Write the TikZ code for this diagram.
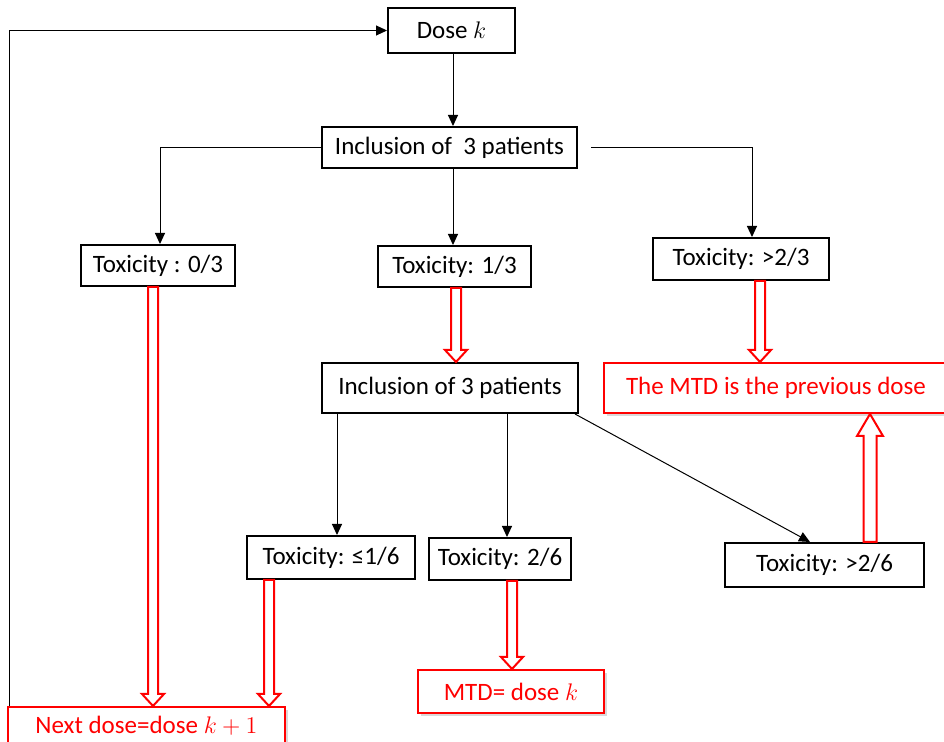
\documentclass[tikz,border=0pt]{standalone}
\usepackage{fontspec}
\setmainfont{Carlito}
\usetikzlibrary{arrows.meta,calc,shadows}

\tikzset{
  box/.style={draw, line width=1pt, fill=white, inner sep=0pt,
    font=\fontsize{12.5}{14}\selectfont},
  redbox/.style={box, draw=red, text=red,
    drop shadow={shadow xshift=1.5pt, shadow yshift=-1.5pt, opacity=0.3}},
  link/.style={line width=0.5pt, -{Triangle[length=5.5pt,width=5pt]}},
  hollow/.style={draw=red, line width=1pt, fill=white},
}

% #1 start, #2 target, #3 half shaft, #4 half head, #5 head length
\newcommand\hollowarrow[5]{%
  \draw[hollow] let \p1=#1, \p2=#2, \n1={ifthenelse(\y2>\y1,1,-1)} in
    (\x1-#3,\y1) -- (\x1-#3,\y2-\n1*#5) -- (\x1-#4,\y2-\n1*#5)
    -- (\x1,\y2) -- (\x1+#4,\y2-\n1*#5) -- (\x1+#3,\y2-\n1*#5)
    -- (\x1+#3,\y1) -- cycle;}

\begin{document}
\begin{tikzpicture}[x=0.5pt,y=-0.5pt]
\useasboundingbox (0,0) rectangle (944,742);

\node[box, minimum width=63.5pt, minimum height=22.5pt] (dose) at (451.5,30.5) {Dose $k$};
\node[box, minimum width=127.5pt, minimum height=20.5pt] (incl1) at (449.5,147.5) {Inclusion of\ \ 3 patients};
\node[box, minimum width=77pt, minimum height=20.5pt] (tox03) at (158,265.5) {Toxicity : 0/3};
\node[box, minimum width=76.5pt, minimum height=20.5pt] (tox13) at (454.5,266.5) {Toxicity: 1/3};
\node[box, minimum width=88pt, minimum height=21pt] (tox23) at (741,259) {Toxicity: >2/3};
\node[box, minimum width=128pt, minimum height=25pt] (incl2) at (450,388) {Inclusion of 3 patients};
\node[redbox, minimum width=172pt, minimum height=25pt] (mtdprev) at (776,388) {The MTD is the previous dose};
\node[box, minimum width=84pt, minimum height=21.5pt] (tox16) at (331,557.5) {Toxicity: ≤1/6};
\node[box, minimum width=71pt, minimum height=21pt] (tox26) at (500,559) {Toxicity: 2/6};
\node[box, minimum width=99.5pt, minimum height=22pt] (tox26g) at (824.5,565) {Toxicity: >2/6};
\node[redbox, minimum width=93pt, minimum height=21.5pt] (mtdk) at (511,691.5) {MTD= dose $k$};
\node[redbox, minimum width=138.5pt, minimum height=19pt] (next) at (146.5,726) {Next dose=dose $k+1$};

\draw[link] ([xshift=0.75pt]dose.south) -- ([xshift=0.75pt]dose.south |- incl1.north);
\draw[link] (incl1.west) -| ([xshift=1pt]tox03.north);
\draw[link] ([xshift=-0.75pt]tox13.north |- incl1.south) -- ([xshift=-0.75pt]tox13.north);
\draw[link] ([xshift=6.5pt]incl1.east) -| ([xshift=5.5pt]tox23.north);
\draw[link] ([xshift=3pt]tox16.north |- incl2.south) -- ([xshift=3pt]tox16.north);
\draw[link] ([xshift=3.5pt]tox26.north |- incl2.south) -- ([xshift=3.5pt]tox26.north);
\draw[link] ([xshift=-2pt]incl2.south east) -- ([xshift=-7.25pt]tox26g.north);
\draw[link] ([xshift=1pt]next.north west) |- (dose.west);

\hollowarrow{([xshift=-2.5pt]tox03.south)}{(next.north)}{2.5pt}{5.5pt}{6pt}
\hollowarrow{([xshift=0.75pt]tox13.south)}{(incl2.north)}{2.5pt}{5.5pt}{6pt}
\hollowarrow{([xshift=9.5pt]tox23.south)}{(mtdprev.north)}{2.5pt}{5.5pt}{6pt}
\hollowarrow{([xshift=22.75pt]tox26g.north)}{(mtdprev.south)}{3.25pt}{6.5pt}{11pt}
\hollowarrow{([xshift=-31pt]tox16.south)}{(next.north)}{2.5pt}{5.5pt}{6pt}
\hollowarrow{([xshift=6pt]tox26.south)}{(mtdk.north)}{2.5pt}{5.5pt}{6pt}
\end{tikzpicture}
\end{document}
